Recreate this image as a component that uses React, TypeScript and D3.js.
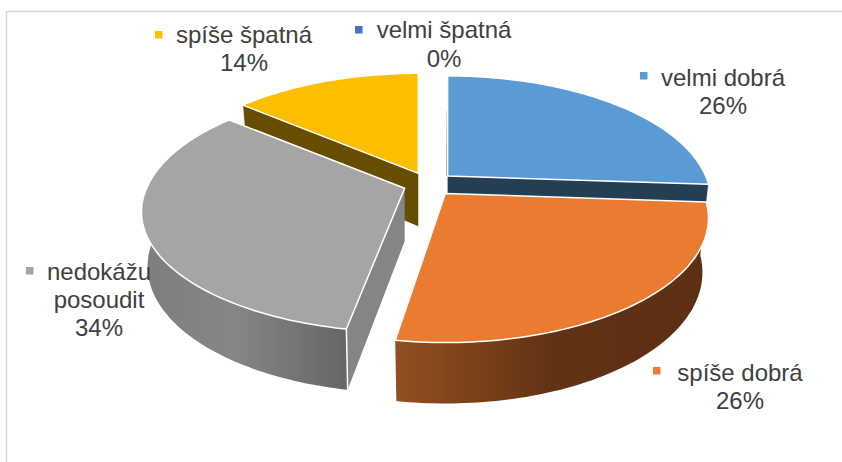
import React from "react";
import * as d3 from "d3";

const categories = ["velmi dobrá", "spíše dobrá", "nedokážu posoudit", "spíše špatná", "velmi špatná"];
const values = [26.1, 26.4, 33.6, 13.9, 0];
const topColors = ["#5B9BD5", "#EA7C31", "#A5A5A5", "#FCBF00", "#4472C4"];
const sideColors = ["#243E54", "#5E3014", "#858585", "#664D00", "#2A4476"];
const markerColors = ["#5B9BD5", "#ED7D31", "#A5A5A5", "#FFC000", "#4472C4"];
const frontScale = [1, 1, 0.965, 1, 1];
const startShift = [0, 0, 1.5, 0, 0];
const drawOrder = [0, 3, 2, 1];
const labelLines = [["velmi dobrá", "26%"], ["spíše dobrá", "26%"], ["nedokážu", "posoudit", "34%"], ["spíše špatná", "14%"], ["velmi špatná", "0%"]];
const labelCenters = [[723, 86], [740, 381], [99, 280], [244, 42.5], [444, 38]];
const labelSpacing = [27.8, 27.8, 28.2, 28.6, 28.6];
const markerBoxes = [[640, 72], [653, 367], [26, 267], [155, 31], [355, 26]];

const W = 842, H = 462;
const CX = 429, CY = 184;
const RX = 258, RY = 119.7, PERSP = 0.197;
const DEPTH = 53, DEPTH_PERSP = 0.13, SHRINK = 0.977, EXPLODE = 0.1;

// perspective projection of a unit-circle direction (angle clockwise from 12 o'clock)
const rim = (a: number, r = 1, fs = 1) => {
  const w = -Math.cos(a) * r;
  const den = 1 - PERSP * w;
  return { x: (RX * Math.sin(a) * r) / den, y: ((RY * w) / den) * (w > 0 ? fs : 1), w };
};
const depthAt = (w: number) => DEPTH / (1 - DEPTH_PERSP * w);

const arcSteps = (a: number, b: number) => {
  const n = Math.max(2, Math.ceil(Math.abs(b - a) / 0.02));
  return d3.range(n + 1).map((i) => a + ((b - a) * i) / n);
};
const line = d3.line<[number, number]>().x((d) => d[0]).y((d) => d[1]);

const FRONT_A = (70 * Math.PI) / 180;
const FRONT_B = (290 * Math.PI) / 180;

export default function App() {
  const arcs = d3.pie<number>().sort(null).startAngle(0).endAngle(2 * Math.PI)(values);
  const shapes = arcs.map((arc, i) => {
    const start = arc.startAngle + (startShift[i] * Math.PI) / 180;
    const end = arc.endAngle;
    const mid = (arc.startAngle + arc.endAngle) / 2;
    const off = rim(mid, EXPLODE);
    const ax = CX + off.x, ay = CY + off.y;
    const fs = frontScale[i];
    const top = (a: number): [number, number] => { const p = rim(a, 1, fs); return [ax + p.x, ay + p.y]; };
    const bot = (a: number): [number, number] => { const p = rim(a, 1, fs); return [ax + p.x * SHRINK, ay + p.y + depthAt(p.w)]; };
    const topPath = line([[ax, ay], ...arcSteps(start, end).map(top)]) + "Z";
    const wa = Math.max(start, FRONT_A), wb = Math.min(end, FRONT_B);
    const wallPath = wb > wa
      ? line([...arcSteps(wa, wb).map(top), ...arcSteps(wb, wa).map(bot)]) + "Z"
      : null;
    const radAngle = i === 0 ? end : start;
    const radial = i === 1 ? null : line([[ax, ay], top(radAngle), bot(radAngle), [ax, ay + DEPTH]]) + "Z";
    const radEdge = i === 1 ? null : line([top(radAngle), bot(radAngle)]);
    const sliver = i === 0 ? line([[ax - 0.6, ay], [top(start)[0] - 0.3, ay - 65]]) : null;
    return { i, topPath, wallPath, radial, radEdge, sliver };
  });

  return (
    <svg width={W} height={H} style={{ position: "absolute", left: 0, top: 0, background: "#fff" }}>
      <defs>
        <linearGradient id="wall1" gradientUnits="userSpaceOnUse" x1={397} x2={710} y1={0} y2={0}>
          <stop offset="0" stopColor="#934F20" />
          <stop offset="0.5" stopColor="#613214" />
          <stop offset="1" stopColor="#5C2F13" />
        </linearGradient>
        <linearGradient id="wall2" gradientUnits="userSpaceOnUse" x1={140} x2={349} y1={0} y2={0}>
          <stop offset="0" stopColor="#7D7D7D" />
          <stop offset="0.45" stopColor="#868686" />
          <stop offset="1" stopColor="#656565" />
        </linearGradient>
      </defs>
      <line x1={6.5} x2={W} y1={11.5} y2={11.5} stroke="#D9D9D9" strokeWidth={1.5} />
      <line x1={6.5} x2={6.5} y1={11} y2={H} stroke="#D9D9D9" strokeWidth={1.5} />
      {drawOrder.map((k) => {
        const s = shapes[k];
        return (
          <g key={k}>
            {s.sliver && <path d={s.sliver} stroke={sideColors[k]} strokeWidth={1} fill="none" />}
            {s.wallPath && <path d={s.wallPath} fill={`url(#wall${k})`} />}
            {s.radial && <path d={s.radial} fill={sideColors[k]} />}
            {s.radEdge && <path d={s.radEdge} stroke="#fff" strokeWidth={k === 2 ? 1.5 : 0.7} fill="none" />}
            <path d={s.topPath} fill={topColors[k]} stroke="#fff" strokeWidth={1.5} strokeLinejoin="round" />
          </g>
        );
      })}
      {categories.map((c, i) => (
        <g key={c}>
          <rect x={markerBoxes[i][0]} y={markerBoxes[i][1]} width={7.5} height={7.5} fill={markerColors[i]} />
          <text fontFamily="'Liberation Sans', Arial, sans-serif" fontSize={24} fill="#404040" textAnchor="middle">
            {labelLines[i].map((t, j) => (
              <tspan key={j} x={labelCenters[i][0]} y={labelCenters[i][1] + j * labelSpacing[i]}>{t}</tspan>
            ))}
          </text>
        </g>
      ))}
    </svg>
  );
}
